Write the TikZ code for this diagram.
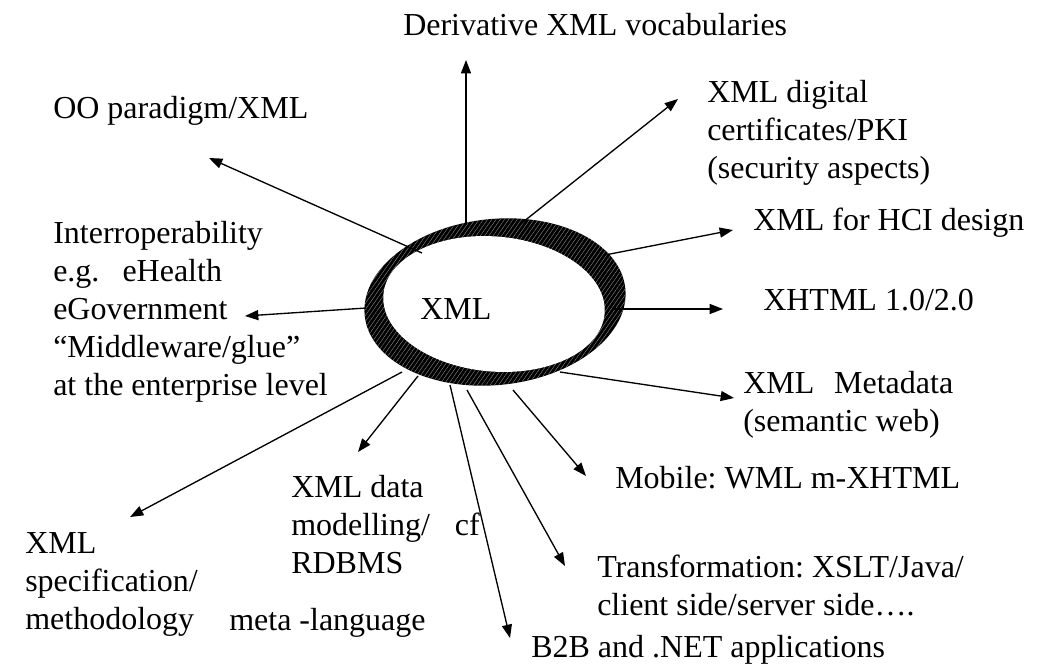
\documentclass[tikz,border=0pt]{standalone}
\usepackage{fontspec}
\setmainfont{Liberation Serif}
\usetikzlibrary{arrows.meta,patterns.meta}
\newcommand{\mylines}[1]{\begin{tabular}[t]{@{}l@{}}#1\end{tabular}}
\frenchspacing
\begin{document}
\begin{tikzpicture}[x=0.75pt,y=-0.75pt,
  lbl/.style={anchor=base west,inner sep=0pt,font=\fontsize{24}{28.5}\selectfont},
  arr/.style={line width=1pt,-{Triangle[length=10pt,width=7.5pt]}},
  hatch/.style={pattern={Lines[angle=55,distance=2.6pt,line width=0.25pt]},pattern color=black!40}]
\useasboundingbox (0,0) rectangle (1063,668);
\fill[white] (0,0) rectangle (1063,668);

% ring
\begin{scope}[rotate around={6:(495,302)}]
  \fill[black] (495,302) ellipse [x radius=131,y radius=83];
  \fill[hatch] (495,302) ellipse [x radius=131,y radius=83];
\end{scope}
\begin{scope}[rotate around={-5:(494,304)}]
  \fill[white] (494,304) ellipse [x radius=111,y radius=67.5];
\end{scope}

% labels
\node[lbl] (der) at (403,35) {Derivative XML vocabularies};
\node[lbl] (oo) at (53,118) {OO paradigm/XML};
\node[lbl] (interop) at (53,243) {\mylines{Interroperability\\ e.g.\hspace{0.72em}eHealth\\ eGovernment\\ “Middleware/glue”\\ at the enterprise level}};
\node[lbl] (xml) at (420,319) {XML};
\node[lbl] (pki) at (707,102) {\mylines{XML digital\\ certificates/PKI\\ (security aspects)}};
\node[lbl] (hci) at (753,230) {XML for HCI design};
\node[lbl] (xhtml) at (763,310) {XHTML 1.0/2.0};
\node[lbl] (meta) at (743,393) {\mylines{XML\hspace{0.62em}Metadata\\ (semantic web)}};
\node[lbl] (mobile) at (615,488) {Mobile: WML m-XHTML};
\node[lbl] (trans) at (597,577) {\mylines{Transformation: XSLT/Java/\\ client side/server side….}};
\node[lbl] (b2b) at (531,657) {B2B and .NET applications};
\node[lbl] (data) at (291,497) {\mylines{XML data\\ modelling/\hspace{0.78em}cf\\ RDBMS}};
\node[lbl] (spec) at (25,553) {\mylines{XML\\ specification/\\ methodology}};
\node[lbl] (metalang) at (229,630) {meta -language};

% connector end points
\coordinate (sDer) at (466,224);   \coordinate (tDer) at (466,60);
\coordinate (sOO) at (422,253);    \coordinate (tOO) at (209,158);
\coordinate (sPKI) at (518,226);   \coordinate (tPKI) at (678,99);
\coordinate (sHCI) at (605,255);   \coordinate (tHCI) at (733,230);
\coordinate (sXH) at (612,309);    \coordinate (tXH) at (723,309);
\coordinate (sGov) at (366,308);   \coordinate (tGov) at (245,316);
\coordinate (sMeta) at (560,372);  \coordinate (tMeta) at (734,398);
\coordinate (sMob) at (513,390);   \coordinate (tMob) at (586,476);
\coordinate (sTr) at (467,390);    \coordinate (tTr) at (565,566);
\coordinate (sB2B) at (450,385);   \coordinate (tB2B) at (510,638);
\coordinate (sData) at (418,376);  \coordinate (tData) at (358,452);
\coordinate (sSpec) at (402,372);  \coordinate (tSpec) at (130,517);

\draw[arr] (sDer) -- (tDer);
\draw[arr] (sOO) -- (tOO);
\draw[arr] (sPKI) -- (tPKI);
\draw[arr] (sHCI) -- (tHCI);
\draw[arr] (sXH) -- (tXH);
\draw[arr] (sGov) -- (tGov);
\draw[arr] (sMeta) -- (tMeta);
\draw[arr] (sMob) -- (tMob);
\draw[arr] (sTr) -- (tTr);
\draw[arr] (sB2B) -- (tB2B);
\draw[arr] (sData) -- (tData);
\draw[arr] (sSpec) -- (tSpec);
\end{tikzpicture}
\end{document}
